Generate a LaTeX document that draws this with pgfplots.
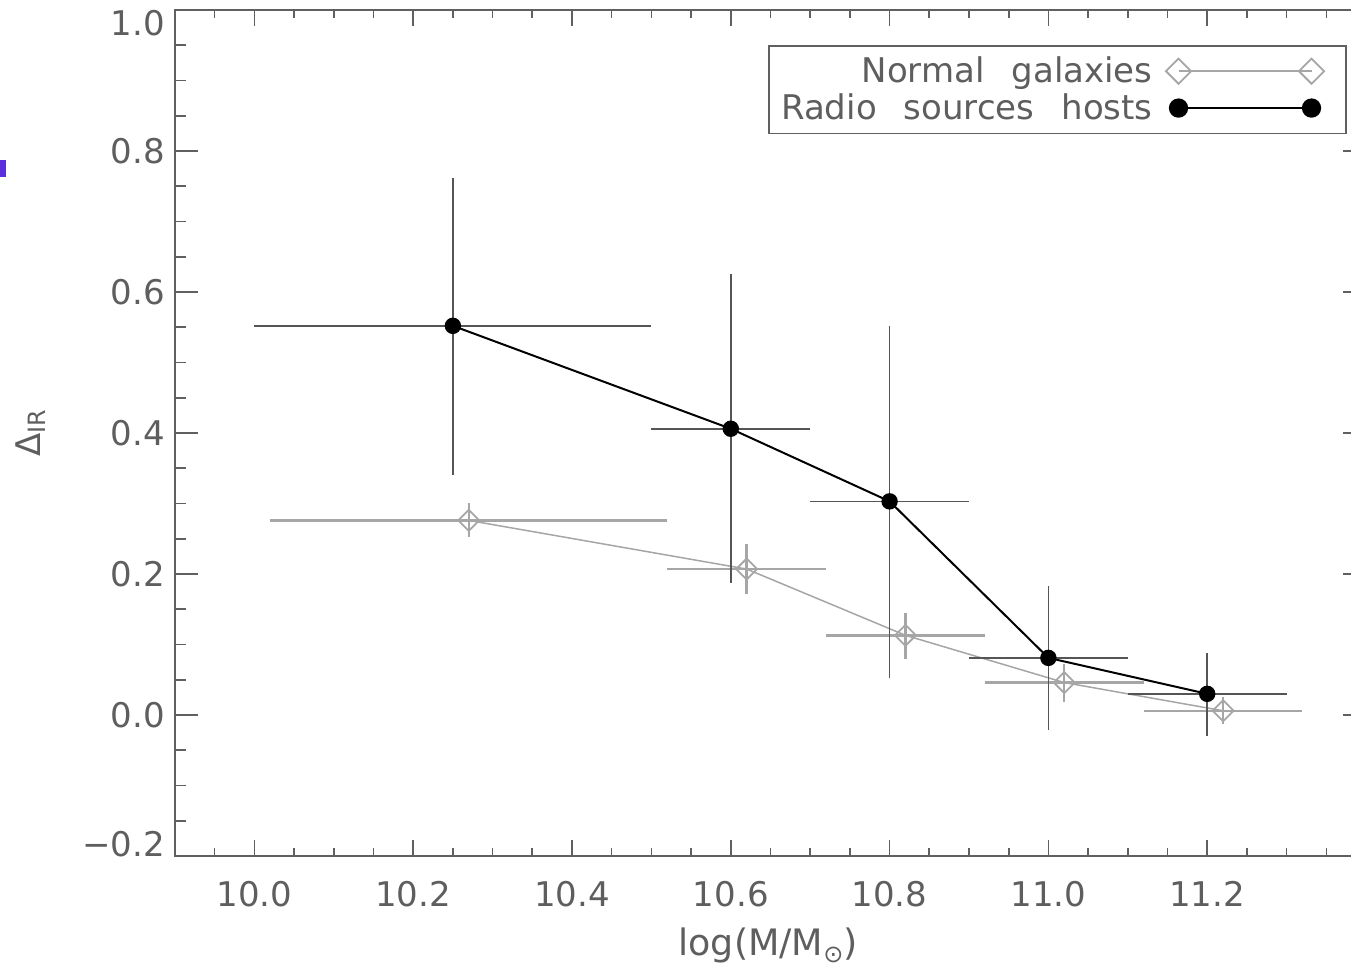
\documentclass[border=0pt]{standalone}
\usepackage{fontspec}
\setmainfont{DejaVu Sans}[WordSpace=2.5]
\usepackage{pgfplots}
\usepackage{pgfplotstable}
\pgfplotsset{compat=1.18}

\definecolor{axgray}{HTML}{606060}
\definecolor{txtgray}{HTML}{5E5E5E}
\definecolor{errdark}{HTML}{555555}
\definecolor{lightg}{HTML}{A6A6A6}
\definecolor{artblue}{HTML}{5B2FDD}

% Radio sources hosts
\pgfplotstableread{
x     y      xp    xm    yp     ym
10.25 0.552  0.25  0.25  0.210  0.211
10.60 0.406  0.10  0.10  0.220  0.219
10.80 0.303  0.10  0.10  0.249  0.251
11.00 0.081  0.10  0.10  0.102  0.103
11.20 0.030  0.10  0.10  0.058  0.060
}\radio

% Normal galaxies
\pgfplotstableread{
x     y      xp    xm    yp     ym
10.27 0.276  0.25  0.25  0.024  0.024
10.62 0.207  0.10  0.10  0.036  0.036
10.82 0.113  0.10  0.10  0.031  0.033
11.02 0.046  0.10  0.10  0.027  0.027
11.22 0.006  0.10  0.10  0.019  0.019
}\normal

\pgfplotsset{
  common/.style={
    at={(0,0)}, anchor=south west,
    scale only axis, width=595.5pt, height=423pt,
    xmin=9.9, xmax=11.4, ymin=-0.2, ymax=1.0,
    tick pos=both, tick align=inside,
    axis line style={draw=axgray, line width=0.8pt},
    every tick/.style={draw=axgray, line width=0.8pt},
    tick label style={font=\fontsize{17}{20}\selectfont, text=txtgray},
  }
}

\begin{document}
\begin{tikzpicture}
\useasboundingbox (-87.5pt,-55.5pt) rectangle (588pt,428pt);

% x ticks (shorter) and the bottom y label
\begin{axis}[common,
  ytick={-0.2}, yticklabels={−0.2}, minor ytick={},
  yticklabel style={xshift=-1.5pt, yshift=6pt},
  xtick={10,10.2,10.4,10.6,10.8,11,11.2},
  xticklabels={10.0,10.2,10.4,10.6,10.8,11.0,11.2},
  minor xtick={9.95,10.05,10.1,10.15,10.25,10.3,10.35,10.45,10.5,10.55,10.65,10.7,10.75,10.85,10.9,10.95,11.05,11.1,11.15,11.25,11.3,11.35},
  major tick length=8pt, minor tick length=4pt,
  xticklabel style={yshift=-9pt},
  xlabel={log(M/M\raisebox{-0.35ex}{\fontsize{12}{12}\selectfont ⊙})},
  xlabel style={at={(axis description cs:0.498,-0.106)}, anchor=center,
    font=\fontsize{18.2}{20}\selectfont, text=txtgray},
]
\end{axis}

% y ticks and data
\begin{axis}[common,
  xtick=\empty, minor xtick={},
  ytick={0,0.2,0.4,0.6,0.8},
  yticklabels={0.0,0.2,0.4,0.6,0.8},
  extra y ticks={1.0}, extra y tick labels={1.0},
  extra y tick style={yticklabel style={yshift=-6.5pt}},
  minor ytick={-0.15,-0.1,-0.05,0.05,0.1,0.15,0.25,0.3,0.35,0.45,0.5,0.55,0.65,0.7,0.75,0.85,0.9,0.95},
  major tick length=11.5pt, minor tick length=5.5pt,
  yticklabel style={xshift=-1.5pt},
  ylabel={Δ\textsubscript{IR}},
  ylabel style={at={(axis description cs:-0.121,0.5)}, anchor=center, rotate=0,
    font=\fontsize{17}{20}\selectfont, text=txtgray},
  legend style={at={(0.984,0.9586)}, anchor=north east,
    draw=axgray, line width=0.8pt, fill=white,
    font=\fontsize{17}{20}\selectfont, text=txtgray,
    inner xsep=4pt, inner ysep=3.5pt, row sep=0pt},
  legend cell align=right,
  legend plot pos=right,
  legend image code/.code={%
    \draw[#1, every mark/.append style={scale=1.2}] plot coordinates {(7.5pt,0pt) (74pt,0pt)};
    \path[draw=none, fill=none] (0pt,-0.1pt) rectangle (87.3pt,0.1pt);},
]
\addplot[color=lightg, line width=0.75pt,
  mark=square, mark size=3.7pt, mark options={rotate=45, draw=lightg, fill=none, line width=0.9pt},
  error bars/.cd, x dir=both, x explicit, y dir=both, y explicit,
  error mark=none, error bar style={draw=lightg, line width=1.2pt}]
  table[x=x, y=y, x error plus=xp, x error minus=xm, y error plus=yp, y error minus=ym] {\normal};
\addlegendentry{Normal galaxies\rule{3.5pt}{0pt}}

\addplot[color=black, line width=1pt,
  mark=*, mark size=3.6pt, mark options={draw=black, fill=black},
  error bars/.cd, x dir=both, x explicit, y dir=both, y explicit,
  error mark=none, error bar style={draw=errdark, line width=0.75pt}]
  table[x=x, y=y, x error plus=xp, x error minus=xm, y error plus=yp, y error minus=ym] {\radio};
\addlegendentry{Radio sources hosts\rule{3.5pt}{0pt}}
\end{axis}

\fill[artblue] (-87.5pt,339.5pt) rectangle (-84.5pt,348pt);
\end{tikzpicture}
\end{document}
